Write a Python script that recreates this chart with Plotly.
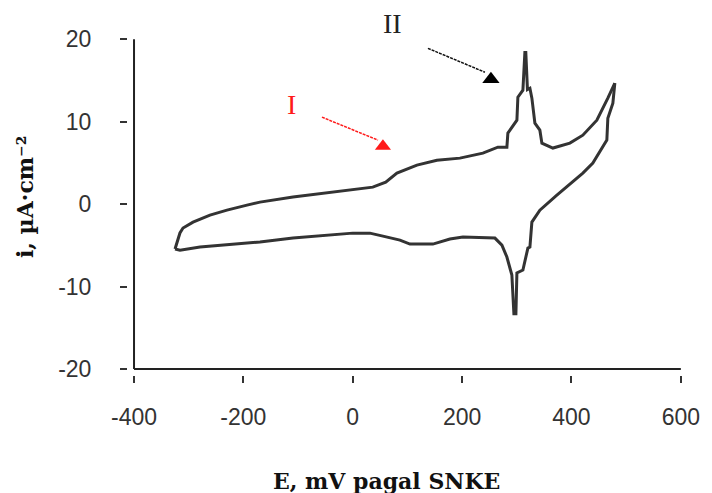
import plotly.graph_objects as go

# Forward (anodic) sweep, mV vs current density, µA/cm²
E_forward = [-325, -319.6, -316, -310.4, -292.1, -261.1, -230, -193.4, -169.7, -109.3, -47.2,
             0, 36.6, 60.3, 80.8, 117.4, 153.9, 196, 238, 265.4, 281.9, 283.7, 292.9,
             300.2, 302, 311.2, 314.8, 316.5, 319.5, 324, 327.6, 333.1, 342.2, 345.9,
             366, 397.1, 420.8, 446.4, 466.5, 479.3]
i_forward = [-5.45, -4.36, -3.5, -2.9, -2.18, -1.33, -0.73, -0.12, 0.24, 0.85, 1.33,
             1.7, 2.06, 2.67, 3.76, 4.73, 5.33, 5.58, 6.18, 6.91, 6.91, 8.61, 9.58,
             10.18, 12.97, 13.82, 18.4, 18.4, 13.9, 14.06, 12.85, 9.82, 8.97, 7.4,
             6.8, 7.4, 8.36, 10.18, 12.85, 14.67]

# Reverse (cathodic) sweep back to the starting potential
E_reverse = [479.3, 475.7, 466.5, 464.7, 439.1, 420.8, 373.3, 342.2, 327.6, 324,
             320.3, 311.2, 300.2, 298.4, 294.7, 291, 281.9, 272.8, 260, 214.3,
             201.5, 177.7, 146.6, 104.6, 86.3, 55.2, 31.4, 0, -47.2, -109.3,
             -169.7, -230, -279.3, -315.9, -325]
i_reverse = [14.67, 12.24, 10.42, 7.76, 4.97, 3.76, 1.09, -0.73, -2.18, -5.21,
             -5.33, -8.0, -8.36, -13.3, -13.3, -8.6, -6.42, -4.97, -4.12, -4.0,
             -4.0, -4.24, -4.85, -4.85, -4.36, -3.88, -3.52, -3.52, -3.76, -4.12,
             -4.6, -4.97, -5.21, -5.58, -5.45]

x_ticks = [-400, -200, 0, 200, 400, 600]
x_tick_text = ["-400", "-200", "0", "200", "400", "600"]
y_ticks = [-20, -10, 0, 10, 20]
y_tick_text = ["-20", "-10", "0", "10", "20"]

curve_color = "#333333"
tick_font = dict(family="Liberation Sans, Arial, sans-serif", size=23, color="#333333")
title_font = dict(family="DejaVu Serif, serif", size=22, color="#111111", weight="bold")

fig = go.Figure()
fig.add_trace(go.Scatter(x=E_forward, y=i_forward, mode="lines",
                         line=dict(color=curve_color, width=3), showlegend=False,
                         hoverinfo="skip"))
fig.add_trace(go.Scatter(x=E_reverse, y=i_reverse, mode="lines",
                         line=dict(color=curve_color, width=3), showlegend=False,
                         hoverinfo="skip"))

# Arrow heads for the peak labels (filled upright triangles)
fig.add_trace(go.Scatter(x=[55.2], y=[7.03], mode="markers",
                         marker=dict(symbol="triangle-up", size=14, color="#ff1a1a"),
                         showlegend=False, hoverinfo="skip", cliponaxis=False))
fig.add_trace(go.Scatter(x=[252.7], y=[15.15], mode="markers",
                         marker=dict(symbol="triangle-up", size=15, color="#000000"),
                         showlegend=False, hoverinfo="skip", cliponaxis=False))

shapes = [
    # axis spines, drawn slightly detached from the tick marks
    dict(type="line", xref="x", yref="y", x0=-400, x1=-400, y0=-20, y1=20,
         line=dict(color="#222222", width=2)),
    dict(type="line", xref="x", yref="y", x0=-400, x1=600, y0=-20, y1=-20,
         line=dict(color="#222222", width=2)),
    # arrow shafts
    dict(type="line", xref="x", yref="y", x0=-56.3, y0=10.55, x1=46.1, y1=7.76,
         line=dict(color="#ff1a1a", width=1.5, dash="3px,1px")),
    dict(type="line", xref="x", yref="y", x0=137.5, y0=18.9, x1=241.7, y1=16.0,
         line=dict(color="#111111", width=1.5, dash="3px,1px")),
]

annotations = [
    dict(x=-111.1, y=12.12, xref="x", yref="y", text="I", showarrow=False,
         font=dict(family="Liberation Serif, serif", size=28, color="#ff1a1a"),
         xanchor="center", yanchor="middle"),
    dict(x=0.479, y=1.045, xref="paper", yref="paper", text="II", showarrow=False,
         font=dict(family="Liberation Serif, serif", size=28, color="#222222"),
         xanchor="center", yanchor="middle"),
    dict(x=0.4666, y=-0.315, xref="paper", yref="paper", text="E, mV pagal SNKE",
         showarrow=False, font=title_font, xanchor="center", yanchor="middle"),
    dict(x=-0.186, y=0.53, xref="paper", yref="paper", text="i, µA·cm⁻²",
         showarrow=False, font=title_font, textangle=-90,
         xanchor="center", yanchor="middle"),
]

fig.update_layout(
    width=712, height=493,
    margin=dict(l=128, r=31, t=39, b=118),
    paper_bgcolor="white", plot_bgcolor="white",
    shapes=shapes, annotations=annotations,
    xaxis=dict(range=[-411, 600.3], tickvals=x_ticks, ticktext=x_tick_text,
               ticks="outside", ticklen=7,
               tickwidth=2, tickcolor="#333333", showline=False, showgrid=False,
               zeroline=False, tickfont=tick_font, ticklabelstandoff=14),
    yaxis=dict(range=[-20.73, 20.03], tickvals=y_ticks, ticktext=y_tick_text,
               ticks="outside", ticklen=7,
               tickwidth=2, tickcolor="#333333", showline=False, showgrid=False,
               zeroline=False, tickfont=tick_font, ticklabelstandoff=24),
)

fig.write_html("out.html")
